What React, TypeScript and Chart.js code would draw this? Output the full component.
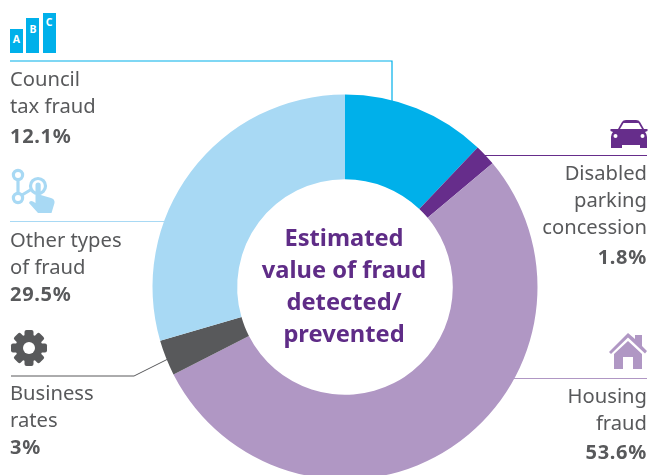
import React, { useEffect, useRef } from "react";
import { Chart, registerables } from "chart.js";

Chart.register(...registerables);

const categories = ["Council tax fraud", "Disabled parking concession", "Housing fraud", "Business rates", "Other types of fraud"];
const shares = [12.1, 1.8, 53.6, 3, 29.5];
const colours = ["#00b0ea", "#662d8b", "#b097c4", "#58595b", "#a8d9f4"];
const centreLines = ["Estimated", "value of fraud", "detected/", "prevented"];

const font = "'Noto Sans', sans-serif";
const grey = "#58595b";

type LabelProps = { top: number; lines: string[]; value: string; align: "left" | "right"; valueTop: number };

function Label({ top, lines, value, align, valueTop }: LabelProps) {
  const side: React.CSSProperties = align === "left" ? { left: 10 } : { right: 6 };
  return (
    <>
      {lines.map((l, i) => (
        <div key={l} style={{ position: "absolute", top: top + i * 27, ...side, fontFamily: font, fontSize: 20.2, lineHeight: "27px", color: grey, whiteSpace: "nowrap" }}>{l}</div>
      ))}
      <div style={{ position: "absolute", top: valueTop, ...side, fontFamily: font, fontSize: 20, letterSpacing: 0.7, fontWeight: 700, lineHeight: "27px", color: grey, whiteSpace: "nowrap" }}>{value}</div>
    </>
  );
}

export default function App() {
  const ref = useRef<HTMLCanvasElement>(null);
  useEffect(() => {
    const chart = new Chart(ref.current!, {
      type: "doughnut",
      data: {
        labels: categories,
        datasets: [{ data: shares, backgroundColor: colours, borderWidth: 0 }],
      },
      options: {
        responsive: false,
        animation: false,
        cutout: "56%",
        layout: { padding: { left: 152.5, right: 115.5, top: 94.5, bottom: 10.5 } },
        plugins: { legend: { display: false }, tooltip: { enabled: false } },
      },
    });
    return () => chart.destroy();
  }, []);

  return (
    <div style={{ position: "fixed", left: 0, top: 0, width: 653, height: 475, overflow: "hidden", background: "#fff" }}>
      <svg width={653} height={475} style={{ position: "absolute", left: 0, top: 0 }}>
        <polyline points="10,61 392,61 392,105" fill="none" stroke={colours[0]} strokeWidth={1.2} />
        <line x1={10} y1={221.5} x2={170} y2={221.5} stroke={colours[4]} strokeWidth={1} />
        <polyline points="11,376 134,376 170,358" fill="none" stroke={grey} strokeWidth={1} />
        <line x1={480} y1={155.5} x2={647} y2={155.5} stroke={colours[1]} strokeWidth={1} />
        <line x1={505} y1={378.5} x2={647} y2={378.5} stroke={colours[2]} strokeWidth={1} />

        {/* bars icon */}
        <g fill={colours[0]}>
          <rect x={10} y={29} width={13} height={24} />
          <rect x={26} y={18} width={13} height={35} />
          <rect x={43} y={13} width={13} height={40} />
        </g>
        <g fill="#fff" fontFamily={font} fontSize={10.5} fontWeight={700} textAnchor="middle">
          <text x={16.5} y={43}>A</text>
          <text x={33} y={33}>B</text>
          <text x={49} y={26}>C</text>
        </g>

        {/* touch icon */}
        <g fill="none" stroke={colours[4]} strokeWidth={3.2}>
          <circle cx={18} cy={175} r={4.6} />
          <circle cx={18} cy={198} r={4.6} />
          <path d="M18 180 V193 M22 195 L32 189" />
          <circle cx={38} cy={186} r={7.5} />
        </g>
        <path d="M35.5 185 a2.6 2.6 0 0 1 5.2 0 V195 L51 198 Q55 199 54.5 203 L51.5 213 H38 L29 203 Q30 199 35.5 203 Z" fill={colours[4]} />

        {/* gear icon */}
        <g transform="translate(29 348)">
          {[0, 45, 90, 135].map((a) => (
            <rect key={a} x={-4.5} y={-18} width={9} height={36} rx={2} fill={grey} transform={`rotate(${a})`} />
          ))}
          <circle r={13.5} fill={grey} />
          <circle r={6} fill="#fff" />
        </g>

        {/* car icon */}
        <g>
          <path d="M618 129 L622 122 Q623 120 626 120 H636 Q639 120 640 122 L644 129 H647.5 V131 L645 132 Q647 134 647 137 V148 H640 V145 H622 V148 H611 V137 Q611 134 613 132 L610.5 131 V129 Z" fill={colours[1]} />
          <path d="M620 129 L623.5 123 H638.5 L642 129 Z" fill="#fff" />
          <circle cx={615.5} cy={136} r={2} fill="#fff" />
          <circle cx={642.5} cy={136} r={2} fill="#fff" />
        </g>

        {/* house icon */}
        <g fill={colours[2]}>
          <path d="M609 352 L628 333 L635 339 V335 H642 V346 L647 351 L645 353.5 L628 337.5 L611 354 Z" />
          <path d="M614 354 L628 341 L642 354 V369 H633 V357 H623 V369 H614 Z" />
        </g>
      </svg>

      <canvas ref={ref} width={653} height={490} style={{ position: "absolute", left: 0, top: 0, display: "block" }} />

      <Label top={65} lines={["Council", "tax fraud"]} value="12.1%" align="left" valueTop={122} />
      <Label top={226} lines={["Other types", "of fraud"]} value="29.5%" align="left" valueTop={280} />
      <Label top={379} lines={["Business", "rates"]} value="3%" align="left" valueTop={433} />
      <Label top={159} lines={["Disabled", "parking", "concession"]} value="1.8%" align="right" valueTop={243} />
      <Label top={382} lines={["Housing", "fraud"]} value="53.6%" align="right" valueTop={438} />

      {centreLines.map((l, i) => (
        <div key={l} style={{ position: "absolute", left: 244, width: 200, top: 221 + i * 32, textAlign: "center", fontFamily: font, fontSize: 23.7, fontWeight: 700, lineHeight: "32px", color: "#5f2c87", whiteSpace: "nowrap" }}>{l}</div>
      ))}
    </div>
  );
}
